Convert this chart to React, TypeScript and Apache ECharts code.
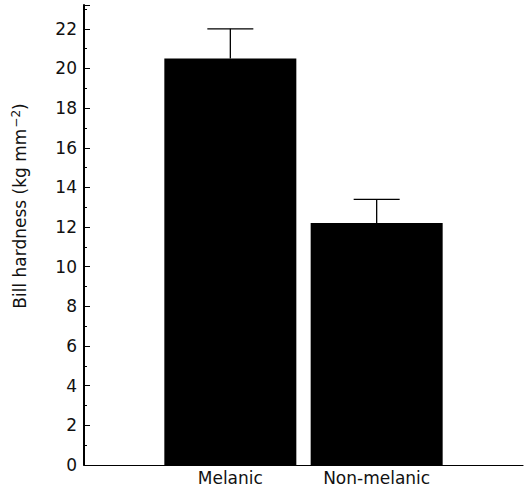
import React, { useEffect, useRef } from "react";
import * as echarts from "echarts";

const categories = ["Melanic", "Non-melanic"];
const values = [20.5, 12.2];
const upperErrors = [1.5, 1.2];
const yTicks = [0, 2, 4, 6, 8, 10, 12, 14, 16, 18, 20, 22];
const yAxisTitle = "Bill hardness (kg mm{sup|\u22122})";

export default function App() {
  const ref = useRef<HTMLDivElement>(null);
  useEffect(() => {
    if (!ref.current) return;
    const chart = echarts.init(ref.current, null, { renderer: "svg" });
    const font = "'DejaVu Sans', 'Liberation Sans', Arial, sans-serif";
    const barData = categories.map((c, i) => [i + 1, values[i]]);
    const errData = categories.map((c, i) => [i + 1, values[i], values[i] + upperErrors[i]]);
    chart.setOption({
      animation: false,
      backgroundColor: "#fff",
      textStyle: { fontFamily: font },
      grid: { left: 84, right: 6, top: 5, bottom: 25 },
      graphic: [
        {
          type: "text",
          x: 20,
          y: 206,
          rotation: Math.PI / 2,
          style: {
            text: yAxisTitle,
            fill: "#111",
            font: `17px ${font}`,
            align: "center",
            verticalAlign: "middle",
            rich: {
              sup: {
                fontSize: 12,
                fontFamily: font,
                fill: "#111",
                padding: [0, 0, 9, 1],
              },
            },
          },
        },
      ],
      xAxis: {
        type: "value",
        min: 0,
        max: 3,
        interval: 1,
        axisLine: { show: true, lineStyle: { color: "#000", width: 1.2 } },
        axisTick: { show: false },
        splitLine: { show: false },
        axisLabel: {
          color: "#111",
          fontFamily: font,
          fontSize: 17,
          margin: 4,
          formatter: (v: number) => categories[Math.round(v) - 1] ?? "",
        },
      },
      yAxis: {
        type: "value",
        min: 0,
        max: 23.2,
        interval: 2,
        axisLine: { show: true, lineStyle: { color: "#000", width: 2 } },
        axisTick: { show: true, inside: true, length: 6, lineStyle: { color: "#000" } },
        minorTick: { show: true, splitNumber: 2, length: 3, lineStyle: { color: "#000" } },
        splitLine: { show: false },
        axisLabel: {
          color: "#111",
          fontFamily: font,
          fontSize: 17,
          margin: 7,
          showMaxLabel: false,
          formatter: (v: number) => (yTicks.includes(v) ? String(v) : ""),
        },
      },
      series: [
        {
          type: "bar",
          data: barData,
          barWidth: 132,
          itemStyle: { color: "#000" },
        },
        {
          type: "custom",
          data: errData,
          z: 3,
          renderItem: (params: any, api: any) => {
            const x = api.value(0);
            const p0 = api.coord([x, api.value(1)]);
            const p1 = api.coord([x, api.value(2)]);
            const half = 23;
            const style = { stroke: "#000", lineWidth: 1.3 };
            return {
              type: "group",
              children: [
                { type: "line", shape: { x1: p0[0], y1: p0[1], x2: p1[0], y2: p1[1] }, style },
                { type: "line", shape: { x1: p1[0] - half, y1: p1[1], x2: p1[0] + half, y2: p1[1] }, style },
              ],
            };
          },
        },
      ],
    });
    return () => chart.dispose();
  }, []);
  return (
    <div
      ref={ref}
      style={{ position: "fixed", left: 0, top: 0, width: 529, height: 490 }}
    />
  );
}
